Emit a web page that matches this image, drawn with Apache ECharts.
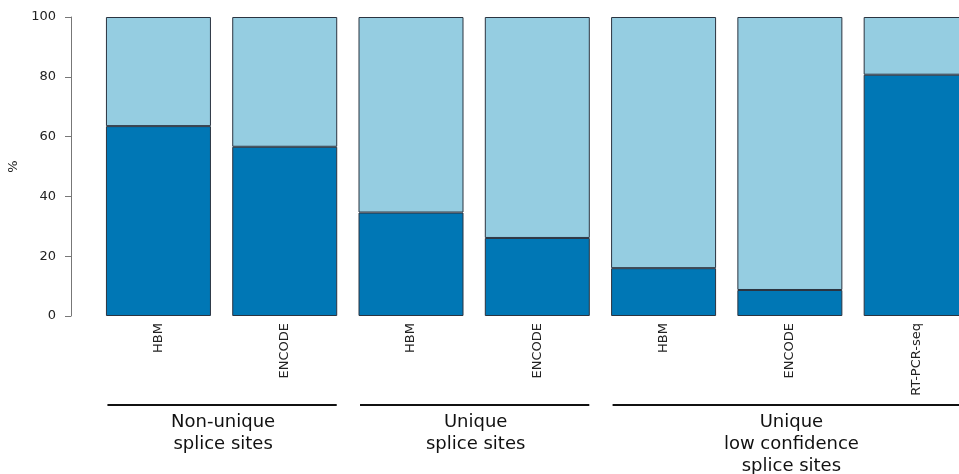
<!DOCTYPE html>
<html>
<head>
<meta charset="utf-8">
<script src="https://cdn.jsdelivr.net/npm/echarts@6/dist/echarts.min.js"></script>
<style>html,body{margin:0;padding:0;background:#fff;}#c{width:959px;height:474px;}</style>
</head>
<body>
<div id="c"></div>
<script>
const categories = ['HBM', 'ENCODE', 'HBM', 'ENCODE', 'HBM', 'ENCODE', 'RT-PCR-seq'];
const darkValues = [63.5, 56.6, 34.6, 26.1, 16.0, 8.7, 80.7];
const lightValues = darkValues.map(v => +(100 - v).toFixed(1));
const groupNames = ['Non-unique\nsplice sites', 'Unique\nsplice sites', 'Unique\nlow confidence\nsplice sites'];
const groupRanges = [[0, 1], [2, 3], [4, 6]];
const yTicks = [0, 20, 40, 60, 80, 100];

const chart = echarts.init(document.getElementById('c'));
const font = 'DejaVu Sans';
const border = {borderColor: '#2b3440', borderWidth: 1};
chart.setOption({
  animation: false,
  grid: {left: 95.3, width: 884, top: 17, bottom: 158, outerBoundsMode: 'none', containLabel: false},
  xAxis: {
    type: 'category', data: categories,
    axisLine: {show: false}, axisTick: {show: false},
    axisLabel: {rotate: 90, fontFamily: font, fontSize: 13, color: '#222', margin: 7}
  },
  yAxis: {
    type: 'value', min: 0, max: 100, interval: 20, offset: 24.3,
    name: '%', nameLocation: 'middle', nameGap: 45, nameRotate: 90,
    nameTextStyle: {fontFamily: font, fontSize: 13, color: '#222'},
    axisLine: {show: true, lineStyle: {color: '#777', width: 1}},
    axisTick: {show: true, length: 6, lineStyle: {color: '#777'}},
    axisLabel: {fontFamily: font, fontSize: 13, color: '#222', margin: 15,
      formatter: v => yTicks.includes(v) ? String(v) : ''},
    splitLine: {show: false}
  },
  series: [
    {type: 'bar', stack: 's', data: darkValues, barWidth: 105,
     itemStyle: Object.assign({color: '#0077b5'}, border)},
    {type: 'bar', stack: 's', data: lightValues, barWidth: 105,
     itemStyle: Object.assign({color: '#95cde1'}, border)}
  ]
});

const half = 52;
const lineY = 405;
const graphics = [];
groupRanges.forEach((r, i) => {
  const x0 = chart.convertToPixel({xAxisIndex: 0}, r[0]) - half;
  const x1 = chart.convertToPixel({xAxisIndex: 0}, r[1]) + half;
  graphics.push({type: 'line', shape: {x1: x0 + 1, y1: lineY, x2: x1, y2: lineY},
    style: {stroke: '#111', lineWidth: 2}});
  graphics.push({type: 'text', x: (x0 + x1) / 2 + 1.5, y: lineY + 6,
    style: {text: groupNames[i], fontFamily: font, fontSize: 18, lineHeight: 22,
      fill: '#111', align: 'center', verticalAlign: 'top'}});
});
chart.setOption({graphic: graphics});
</script>
</body>
</html>
